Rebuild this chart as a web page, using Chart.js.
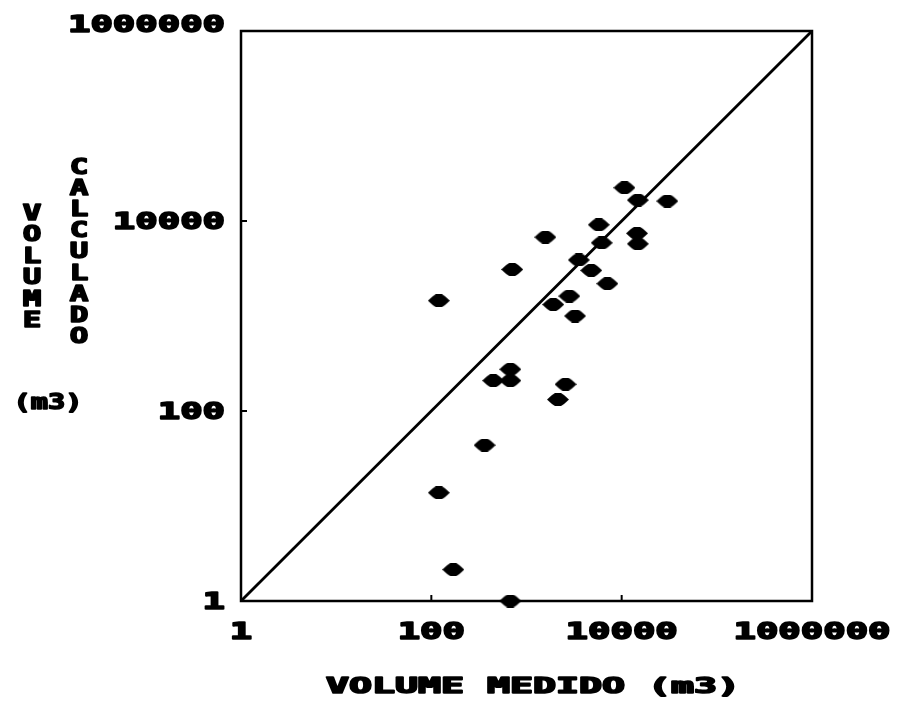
<!DOCTYPE html>
<html>
<head>
<meta charset="utf-8">
<script src="https://cdn.jsdelivr.net/npm/chart.js@4.4.1/dist/chart.umd.min.js"></script>
<style>
  html, body { margin: 0; padding: 0; background: #fff; }
</style>
</head>
<body>
<canvas id="myChart" width="900" height="702"></canvas>
<script>
// measured vs calculated volume (m3)
const volumeMedido = [10700, 14800, 30200, 5750, 14500, 14800, 1580, 6170, 3550, 708,
  4790, 7080, 120, 2820, 1910, 3240, 447, 676, 676, 2570, 2140, 363, 120, 170, 676];
const volumeCalculado = [22400, 16600, 16200, 9120, 7410, 5750, 6760, 5890, 3890, 3090,
  3020, 2190, 1450, 1620, 1320, 1000, 209, 209, 275, 191, 132, 43.7, 13.8, 2.14, 1];

const tickValues = [1, 100, 10000, 1000000];
const tickLabels = ['1', '100', '10000', '1000000'];
const innerTicks = [100, 10000];

const xTitle = 'VOLUME MEDIDO (m3)';
const yTitleA = 'VOLUME';
const yTitleB = 'CALCULADO';
const yUnit = '(m3)';

// 1:1 reference line
const lineEnds = [1, 1000000];

// flat blob marker
function makeMarker() {
  const c = document.createElement('canvas');
  c.width = 22; c.height = 13;
  const g = c.getContext('2d');
  g.fillStyle = '#000';
  g.beginPath();
  g.moveTo(0, 6.5); g.lineTo(5, 2); g.lineTo(8, 0); g.lineTo(14, 0); g.lineTo(17, 2);
  g.lineTo(22, 6.5); g.lineTo(17, 11); g.lineTo(14, 13); g.lineTo(8, 13); g.lineTo(5, 11);
  g.closePath();
  g.fill();
  return c;
}

// wide blocky text: stretched mono font, y is the visual middle of capitals
function wideText(ctx, str, x, y, align, size, sx) {
  ctx.save();
  ctx.font = 'bold ' + size + 'px "DejaVu Sans Mono"';
  ctx.textBaseline = 'alphabetic';
  ctx.textAlign = 'left';
  const w = ctx.measureText(str).width * sx;
  let left = x;
  if (align === 'center') left = x - w / 2;
  else if (align === 'right') left = x - w;
  ctx.translate(left, y + size * 0.365);
  ctx.scale(sx, 1);
  ctx.fillStyle = '#000';
  ctx.strokeStyle = '#000';
  ctx.lineWidth = 1.6;
  ctx.lineJoin = 'round';
  ctx.fillText(str, 0, 0);
  ctx.strokeText(str, 0, 0);
  ctx.restore();
}

function stackedText(ctx, str, cx, firstY, step, size, sx) {
  for (let i = 0; i < str.length; i++) {
    wideText(ctx, str[i], cx, firstY + i * step, 'center', size, sx);
  }
}

const axesPlugin = {
  id: 'plotterAxes',
  beforeDatasetsDraw(chart) {
    const ctx = chart.ctx;
    const a = chart.chartArea;
    const xs = chart.scales.x, ys = chart.scales.y;
    ctx.save();
    ctx.strokeStyle = '#000';
    ctx.lineWidth = 2.5;
    ctx.strokeRect(a.left, a.top, a.right - a.left, a.bottom - a.top);
    ctx.lineWidth = 2;
    innerTicks.forEach(v => {
      const px = xs.getPixelForValue(v);
      ctx.beginPath(); ctx.moveTo(px, a.bottom); ctx.lineTo(px, a.bottom - 6); ctx.stroke();
      const py = ys.getPixelForValue(v);
      ctx.beginPath(); ctx.moveTo(a.left, py); ctx.lineTo(a.left + 6, py); ctx.stroke();
    });
    ctx.restore();
  },
  afterDraw(chart) {
    const ctx = chart.ctx;
    const a = chart.chartArea;
    const xs = chart.scales.x, ys = chart.scales.y;
    const last = tickValues.length - 1;
    tickValues.forEach((v, i) => {
      wideText(ctx, tickLabels[i], xs.getPixelForValue(v), a.bottom + 30, 'center', 23, 1.62);
      // top label sits a little above the frame
      const py = i === last ? a.top - 7 : ys.getPixelForValue(v);
      wideText(ctx, tickLabels[i], a.left - 16, py, 'right', 23, 1.62);
    });
    wideText(ctx, xTitle, 533, 685, 'center', 21, 1.82);
    stackedText(ctx, yTitleA, 32, 212, 21.4, 22, 1.4);
    stackedText(ctx, yTitleB, 79, 166, 21.1, 22, 1.4);
    wideText(ctx, yUnit, 48, 401, 'center', 22, 1.3);
  }
};

const data = {
  datasets: [
    {
      type: 'line',
      data: lineEnds.map(v => ({ x: v, y: v })),
      borderColor: '#000',
      borderWidth: 2.8,
      pointRadius: 0,
      fill: false
    },
    {
      type: 'scatter',
      data: volumeMedido.map((v, i) => ({ x: v, y: volumeCalculado[i] })),
      pointStyle: makeMarker(),
      pointRadius: 11,
      backgroundColor: '#000',
      borderColor: '#000',
      clip: false
    }
  ]
};

const config = {
  type: 'scatter',
  data,
  options: {
    responsive: false,
    animation: false,
    layout: { padding: { left: 241, right: 88, top: 31, bottom: 101 } },
    plugins: {
      legend: { display: false },
      tooltip: { enabled: false }
    },
    scales: {
      x: { type: 'logarithmic', min: 1, max: 1000000, display: false },
      y: { type: 'logarithmic', min: 1, max: 1000000, display: false }
    }
  },
  plugins: [axesPlugin]
};

const myChart = new Chart(document.getElementById('myChart'), config);
</script>
</body>
</html>
